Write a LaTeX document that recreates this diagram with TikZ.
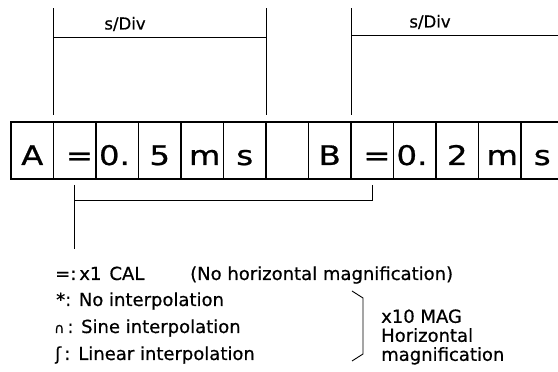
\documentclass[tikz,border=0pt]{standalone}
\usepackage{fontspec}
\setmainfont{DejaVu Sans}[FakeBold=0.6]
\newfontfamily\cellfont{DejaVu Sans}[FakeStretch=1.2,FakeBold=0.8]
\tikzset{
  cellbox/.style={draw,line width=1.1pt,outer sep=0pt,minimum width=42.5pt,minimum height=57pt,inner xsep=3pt,text width=36.5pt,text height=29pt,text depth=0pt,font=\cellfont\fontsize{27}{30}\selectfont},
  guide/.style={line width=0.9pt},
  legend/.style={anchor=base west,inner sep=0pt,font=\fontsize{18}{19}\selectfont},
  divlabel/.style={inner sep=0pt,font=\fontsize{16.5}{18}\selectfont}
}
\begin{document}
\begin{tikzpicture}[x=1pt,y=1pt]
  \useasboundingbox (0,0) rectangle (558,372);
  \clip (0,0) rectangle (558,372);

  % display row
  \node[cellbox,align=center] (c1) at (32.25,221.5) {A};
  \node[cellbox,align=right] (c2) at (74.75,221.5) {=};
  \node[cellbox,align=left] (c3) at (117.25,221.5) {0.};
  \node[cellbox,align=center] (c4) at (159.75,221.5) {5};
  \node[cellbox,align=right] (c5) at (202.25,221.5) {m};
  \node[cellbox,align=center] (c6) at (244.75,221.5) {s};
  \node[cellbox] (c7) at (287.25,221.5) {};
  \node[cellbox,align=center] (c8) at (329.75,221.5) {B};
  \node[cellbox,align=right] (c9) at (372.25,221.5) {=};
  \node[cellbox,align=left] (c10) at (414.75,221.5) {0.};
  \node[cellbox,align=center] (c11) at (457.25,221.5) {2};
  \node[cellbox,align=right] (c12) at (499.75,221.5) {m};
  \node[cellbox,align=center] (c13) at (542.25,221.5) {s};

  % s/Div brackets
  \draw[guide] ([yshift=7pt]c2.north west) -- ([yshift=114pt]c2.north west);
  \draw[guide] ([yshift=7pt]c7.north west) -- ([yshift=114pt]c7.north west);
  \draw[guide] ([yshift=85pt]c2.north west) -- ([yshift=85pt]c7.north west);
  \node[divlabel] (diva) at (125,348) {s/Div};

  \draw[guide] ([yshift=7pt]c9.north west) -- ([yshift=114pt]c9.north west);
  \draw[guide] ([yshift=87pt]c9.north west) -- ([yshift=87pt]c13.north east);
  \node[divlabel] (divb) at (430,350) {s/Div};

  % mode bracket
  \draw[guide] ([yshift=-6pt]c2.south) -- ([yshift=-70pt]c2.south);
  \draw[guide] ([yshift=-6pt]c9.south) |- ([yshift=-21pt]c2.south);

  % legend
  \node[legend] (cal) at (55,92) {=:\,x1\hspace{8pt}CAL};
  \node[legend] (calnote) at (190,92) {(No horizontal magnification)};
  \node[legend] (noint) at (56,66) {*: No interpolation};
  \node[legend] (sine) at (54,39) {{\fontsize{14}{14}\selectfont ∩}\,: Sine interpolation};
  \node[legend] (lin) at (55,12) {ʃ\,:\hspace{8pt}Linear interpolation};
  \node[legend,anchor=west,align=left] (mag) at (381,35) {x10 MAG\\Horizontal\\magnification};
  \draw[guide] (352,81) -- (363,74) -- (363,18) -- (352,11);
\end{tikzpicture}
\end{document}
